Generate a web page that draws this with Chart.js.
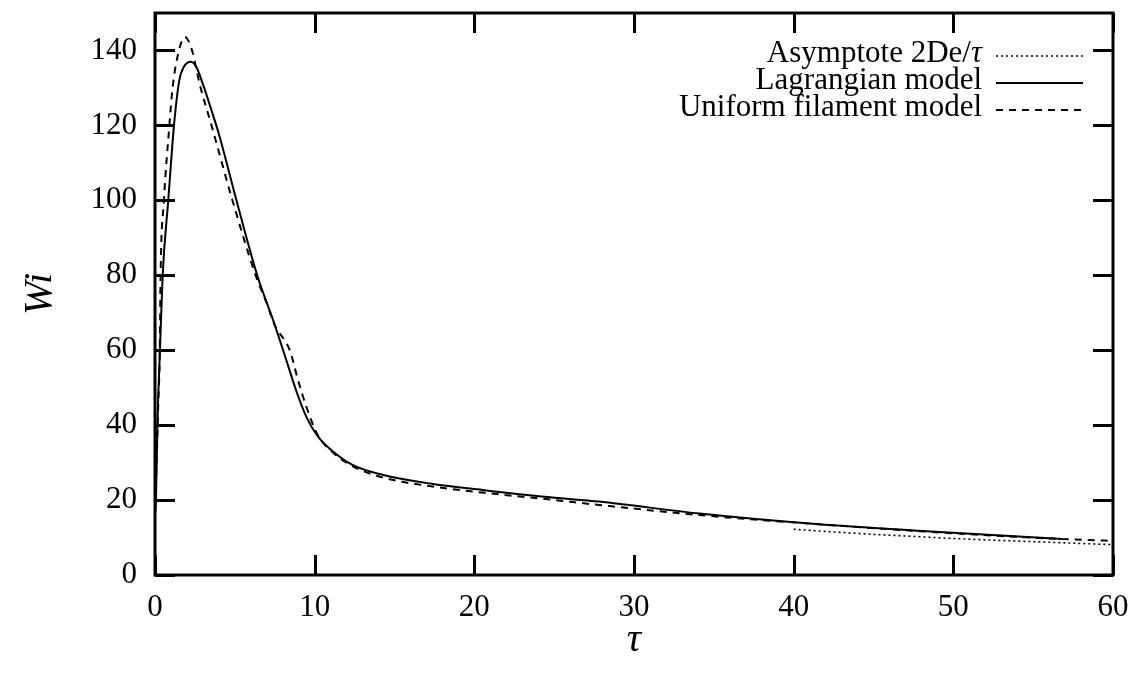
<!DOCTYPE html>
<html>
<head>
<meta charset="utf-8">
<script src="https://cdn.jsdelivr.net/npm/chart.js@4.4.1/dist/chart.umd.min.js"></script>
<style>
  html, body { margin: 0; padding: 0; background: #fff; }
  canvas { display: block; }
</style>
</head>
<body>
<canvas id="wiChart" width="1143" height="676"></canvas>
<script>
// values (tau, Wi)
var lagrTau = [0, 0.06, 0.15, 0.31, 0.48, 0.83, 1.19, 1.52, 1.8, 2.25, 2.6, 3.0, 3.5, 4.0, 5.1, 6.4, 7.4, 8.1, 8.9, 9.5, 10.2, 11.0, 12.4, 14.3, 17.4, 20.5, 24.6, 27.8, 34.1, 41.4, 48.6, 56.8];
var lagrWi  = [16, 20, 40, 60, 80, 100, 120, 132, 135.6, 137, 135.5, 131, 124.5, 117.7, 100, 80, 68, 59, 48.5, 42, 37, 33.5, 29.3, 26.7, 24.3, 22.7, 20.8, 19.6, 16.4, 13.6, 11.6, 9.6];

var unifTau = [0, 0.1, 0.2, 0.3, 0.35, 0.56, 0.9, 1.1, 1.5, 1.88, 2.1, 2.35, 2.8, 3.54, 4.85, 6.3, 7.0, 7.5, 8.44, 8.96, 9.48, 10.2, 11.2, 12.4, 14.3, 17.4, 21.6, 24.6, 27.8, 34.1, 41.4, 48.6, 56.8, 60];
var unifWi  = [16, 30, 45, 60, 80, 100, 120, 130, 140, 143.6, 142.5, 139.6, 131, 120, 100, 80, 72.5, 66.7, 60, 52, 44.9, 37.3, 32.5, 29, 26, 23.6, 21.5, 20.2, 18.7, 16, 13.6, 11.5, 9.6, 9.1];

var asymTau = [40, 42.5, 45, 47.5, 50, 52.5, 55, 57.5, 60];
var asymWi  = [12.2, 11.5, 10.85, 10.3, 9.75, 9.3, 8.9, 8.5, 8.1];

var xTicks = [0, 10, 20, 30, 40, 50, 60];
var yTicks = [0, 20, 40, 60, 80, 100, 120, 140];

var seriesLabels = ["Asymptote 2De/τ", "Lagrangian model", "Uniform filament model"];

function toPoints(xs, ys) {
  return xs.map(function (x, i) { return { x: x, y: ys[i] }; });
}

var serif = "'Liberation Serif', 'DejaVu Serif', serif";

// frame, inward ticks on all four sides and the key in the top right corner
var framePlugin = {
  id: "frame",
  afterDraw: function (chart) {
    var ctx = chart.ctx;
    var a = chart.chartArea;
    var xs = chart.scales.x, ys = chart.scales.y;
    var len = 20;
    ctx.save();
    ctx.strokeStyle = "#000";
    ctx.lineWidth = 3;
    ctx.setLineDash([]);
    ctx.beginPath();
    xTicks.forEach(function (v) {
      var px = Math.round(xs.getPixelForValue(v)) + 0.5;
      ctx.moveTo(px, a.bottom); ctx.lineTo(px, a.bottom - len);
      ctx.moveTo(px, a.top); ctx.lineTo(px, a.top + len);
    });
    yTicks.forEach(function (v) {
      var py = Math.round(ys.getPixelForValue(v)) + 0.5;
      ctx.moveTo(a.left, py); ctx.lineTo(a.left + len, py);
      ctx.moveTo(a.right, py); ctx.lineTo(a.right - len, py);
    });
    ctx.stroke();
    ctx.strokeRect(a.left, a.top, a.right - a.left, a.bottom - a.top);

    // key
    var textRight = a.right - 131;
    var lineStart = a.right - 117, lineEnd = a.right - 30;
    var rowY = [a.top + 41, a.top + 68, a.top + 95];
    var plain = "31px " + serif;
    var italic = "italic 31px " + serif;
    ctx.fillStyle = "#000";
    ctx.textBaseline = "middle";
    ctx.textAlign = "left";
    chart.data.datasets.forEach(function (ds, i) {
      var y = rowY[i];
      var parts = ds.label.split("τ");
      var w = 0;
      parts.forEach(function (p, k) {
        ctx.font = plain;
        w += ctx.measureText(p).width;
        if (k < parts.length - 1) { ctx.font = italic; w += ctx.measureText("τ").width; }
      });
      var x = textRight - w;
      parts.forEach(function (p, k) {
        ctx.font = plain;
        ctx.fillText(p, x, y);
        x += ctx.measureText(p).width;
        if (k < parts.length - 1) {
          ctx.font = italic;
          ctx.fillText("τ", x, y);
          x += ctx.measureText("τ").width;
        }
      });
      ctx.lineWidth = ds.borderWidth;
      ctx.setLineDash(ds.borderDash || []);
      ctx.beginPath();
      ctx.moveTo(lineStart, y + 2);
      ctx.lineTo(lineEnd, y + 2);
      ctx.stroke();
    });
    ctx.restore();
  }
};

var ctx = document.getElementById("wiChart").getContext("2d");
var wiChart = new Chart(ctx, {
  type: "line",
  data: {
    datasets: [
      {
        label: seriesLabels[0],
        data: toPoints(asymTau, asymWi),
        borderColor: "#000",
        borderWidth: 1.6,
        borderDash: [2, 3],
        pointRadius: 0,
        cubicInterpolationMode: "monotone",
        fill: false,
      },
      {
        label: seriesLabels[1],
        data: toPoints(lagrTau, lagrWi),
        borderColor: "#000",
        borderWidth: 2,
        pointRadius: 0,
        cubicInterpolationMode: "monotone",
        fill: false,
      },
      {
        label: seriesLabels[2],
        data: toPoints(unifTau, unifWi),
        borderColor: "#000",
        borderWidth: 2,
        borderDash: [7, 6],
        pointRadius: 0,
        cubicInterpolationMode: "monotone",
        fill: false,
      },
    ],
  },
  options: {
    responsive: false,
    devicePixelRatio: 1,
    animation: false,
    layout: { padding: { top: 13, right: 30, left: 0, bottom: 0 } },
    plugins: {
      legend: { display: false },
      tooltip: { enabled: false },
    },
    scales: {
      x: {
        type: "linear",
        min: 0,
        max: 60,
        afterFit: function (scale) {
          scale.height = 101;
          scale.paddingLeft = 0;
          scale.paddingRight = 0;
        },
        afterBuildTicks: function (scale) {
          scale.ticks = xTicks.map(function (v) { return { value: v }; });
        },
        grid: { drawOnChartArea: false, drawTicks: false },
        border: { display: false },
        ticks: {
          color: "#000",
          padding: 14,
          maxRotation: 0,
          font: { family: serif, size: 31 },
        },
        title: {
          display: true,
          text: "τ",
          color: "#000",
          font: { family: serif, size: 40, style: "italic" },
          padding: { top: 0, bottom: 12 },
        },
      },
      y: {
        type: "linear",
        min: 0,
        max: 150,
        afterFit: function (scale) {
          scale.width = 155;
          scale.paddingTop = 0;
          scale.paddingBottom = 0;
        },
        afterBuildTicks: function (scale) {
          scale.ticks = yTicks.map(function (v) { return { value: v }; });
        },
        grid: { drawOnChartArea: false, drawTicks: false },
        border: { display: false },
        ticks: {
          color: "#000",
          padding: 18,
          font: { family: serif, size: 31 },
        },
        title: {
          display: true,
          text: "Wi",
          color: "#000",
          font: { family: serif, size: 40, style: "italic" },
          padding: { top: 16, bottom: 0 },
        },
      },
    },
  },
  plugins: [framePlugin],
});
</script>
</body>
</html>
